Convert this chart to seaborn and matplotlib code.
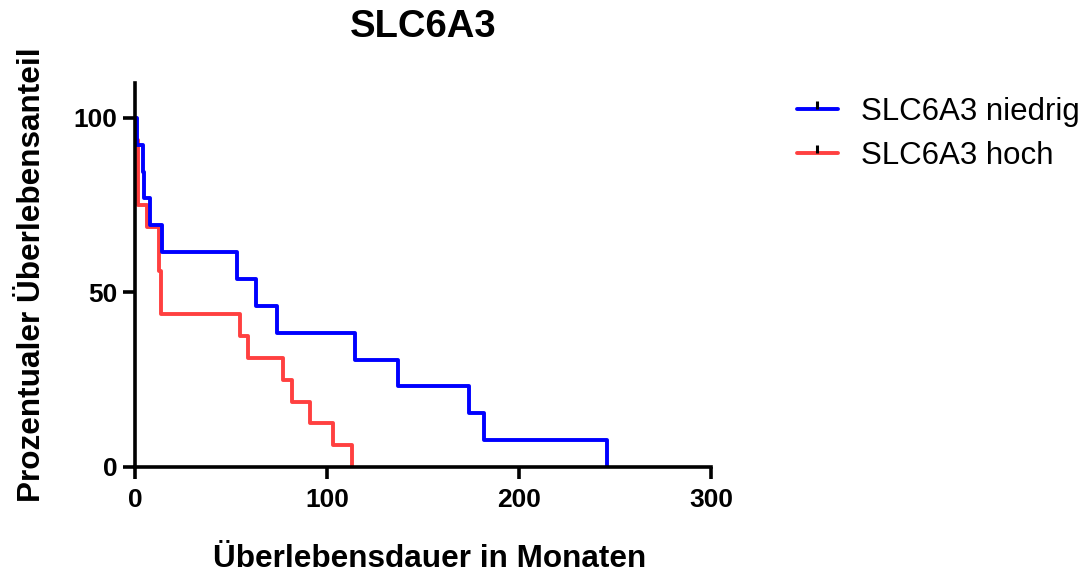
import numpy as np
import pandas as pd
import matplotlib
matplotlib.use("Agg")
import matplotlib.pyplot as plt
from matplotlib import font_manager
from matplotlib.lines import Line2D
import seaborn as sns

# ---- data ----
groups = ["SLC6A3 niedrig", "SLC6A3 hoch"]
colors = ["#0000FF", "#FF4040"]

low_months = [0, 0.8, 4.0, 4.8, 7.8, 14.0, 53.0, 63.0, 74.0, 114.5, 137.0, 174.0, 182.0, 246.0]
low_surv = [100, 92.31, 84.62, 76.92, 69.23, 61.54, 53.85, 46.15, 38.46, 30.77, 23.08, 15.38, 7.69, 0]

high_months = [0, 0.4, 1.7, 6.5, 12.7, 13.7, 54.5, 59.0, 77.0, 82.0, 91.0, 103.0, 113.0]
high_surv = [100, 93.75, 75.0, 68.75, 56.25, 43.75, 37.5, 31.25, 25.0, 18.75, 12.5, 6.25, 0]

xticks = [0, 100, 200, 300]
yticks = [0, 50, 100]

title = "SLC6A3"
xlabel = "Überlebensdauer in Monaten"
ylabel = "Prozentualer Überlebensanteil"

df = pd.concat([
    pd.DataFrame({"Monate": low_months, "Prozent": low_surv, "Gruppe": groups[0]}),
    pd.DataFrame({"Monate": high_months, "Prozent": high_surv, "Gruppe": groups[1]}),
], ignore_index=True)

sns.set_style("ticks")
names = {f.name for f in font_manager.fontManager.ttflist}
base = "Liberation Sans" if "Liberation Sans" in names else "DejaVu Sans"
plt.rcParams["font.family"] = [base, "DejaVu Sans"]
for k in ["text.color", "axes.labelcolor", "xtick.color", "ytick.color", "axes.edgecolor"]:
    plt.rcParams[k] = "black"

fig = plt.figure(figsize=(10.91, 5.75), dpi=100)
ax = fig.add_axes([135/1091, 1 - 467/575, 576/1091, 384/575])

# draw red first, blue on top
for g, c in [(groups[1], colors[1]), (groups[0], colors[0])]:
    sub = df[df["Gruppe"] == g]
    sns.lineplot(data=sub, x="Monate", y="Prozent", ax=ax, color=c,
                 drawstyle="steps-post", estimator=None, sort=False,
                 linewidth=2.8, legend=False)

ax.set_xlim(0, 300)
ax.set_ylim(0, 110)
ax.set_xticks(xticks)
ax.set_yticks(yticks)
for s in ["top", "right"]:
    ax.spines[s].set_visible(False)
for s in ["left", "bottom"]:
    ax.spines[s].set_linewidth(2.6)
    ax.spines[s].set_color("black")
ax.tick_params(axis="both", length=8.3, width=2.6, color="black", labelcolor="black")
ax.tick_params(axis="x", pad=6.5)
ax.tick_params(axis="y", pad=4.3)

for lab in ax.get_xticklabels() + ax.get_yticklabels():
    lab.set_fontweight("bold")
    lab.set_fontsize(19)

ax.set_xlabel(xlabel, fontsize=22.7, fontweight="bold")
ax.set_ylabel(ylabel, fontsize=22.7, fontweight="bold")
ax.xaxis.set_label_coords(0.512, -0.2)
ax.yaxis.set_label_coords(-0.153, 0.5)
ax.set_title(title, fontsize=27.5, fontweight="bold", pad=33)

handles = [Line2D([0], [0], color=c, lw=2.8, marker=2, markersize=5.5,
                  markeredgecolor="black", markeredgewidth=2.2) for c in colors]
fig.legend(handles, groups, loc="upper left", bbox_to_anchor=(797/1091, 1 - 97/575),
           frameon=False, fontsize=22.5, handlelength=1.3, handletextpad=0.75,
           labelspacing=0.46, borderpad=0, borderaxespad=0)

fig.savefig("out.png", dpi=100)
